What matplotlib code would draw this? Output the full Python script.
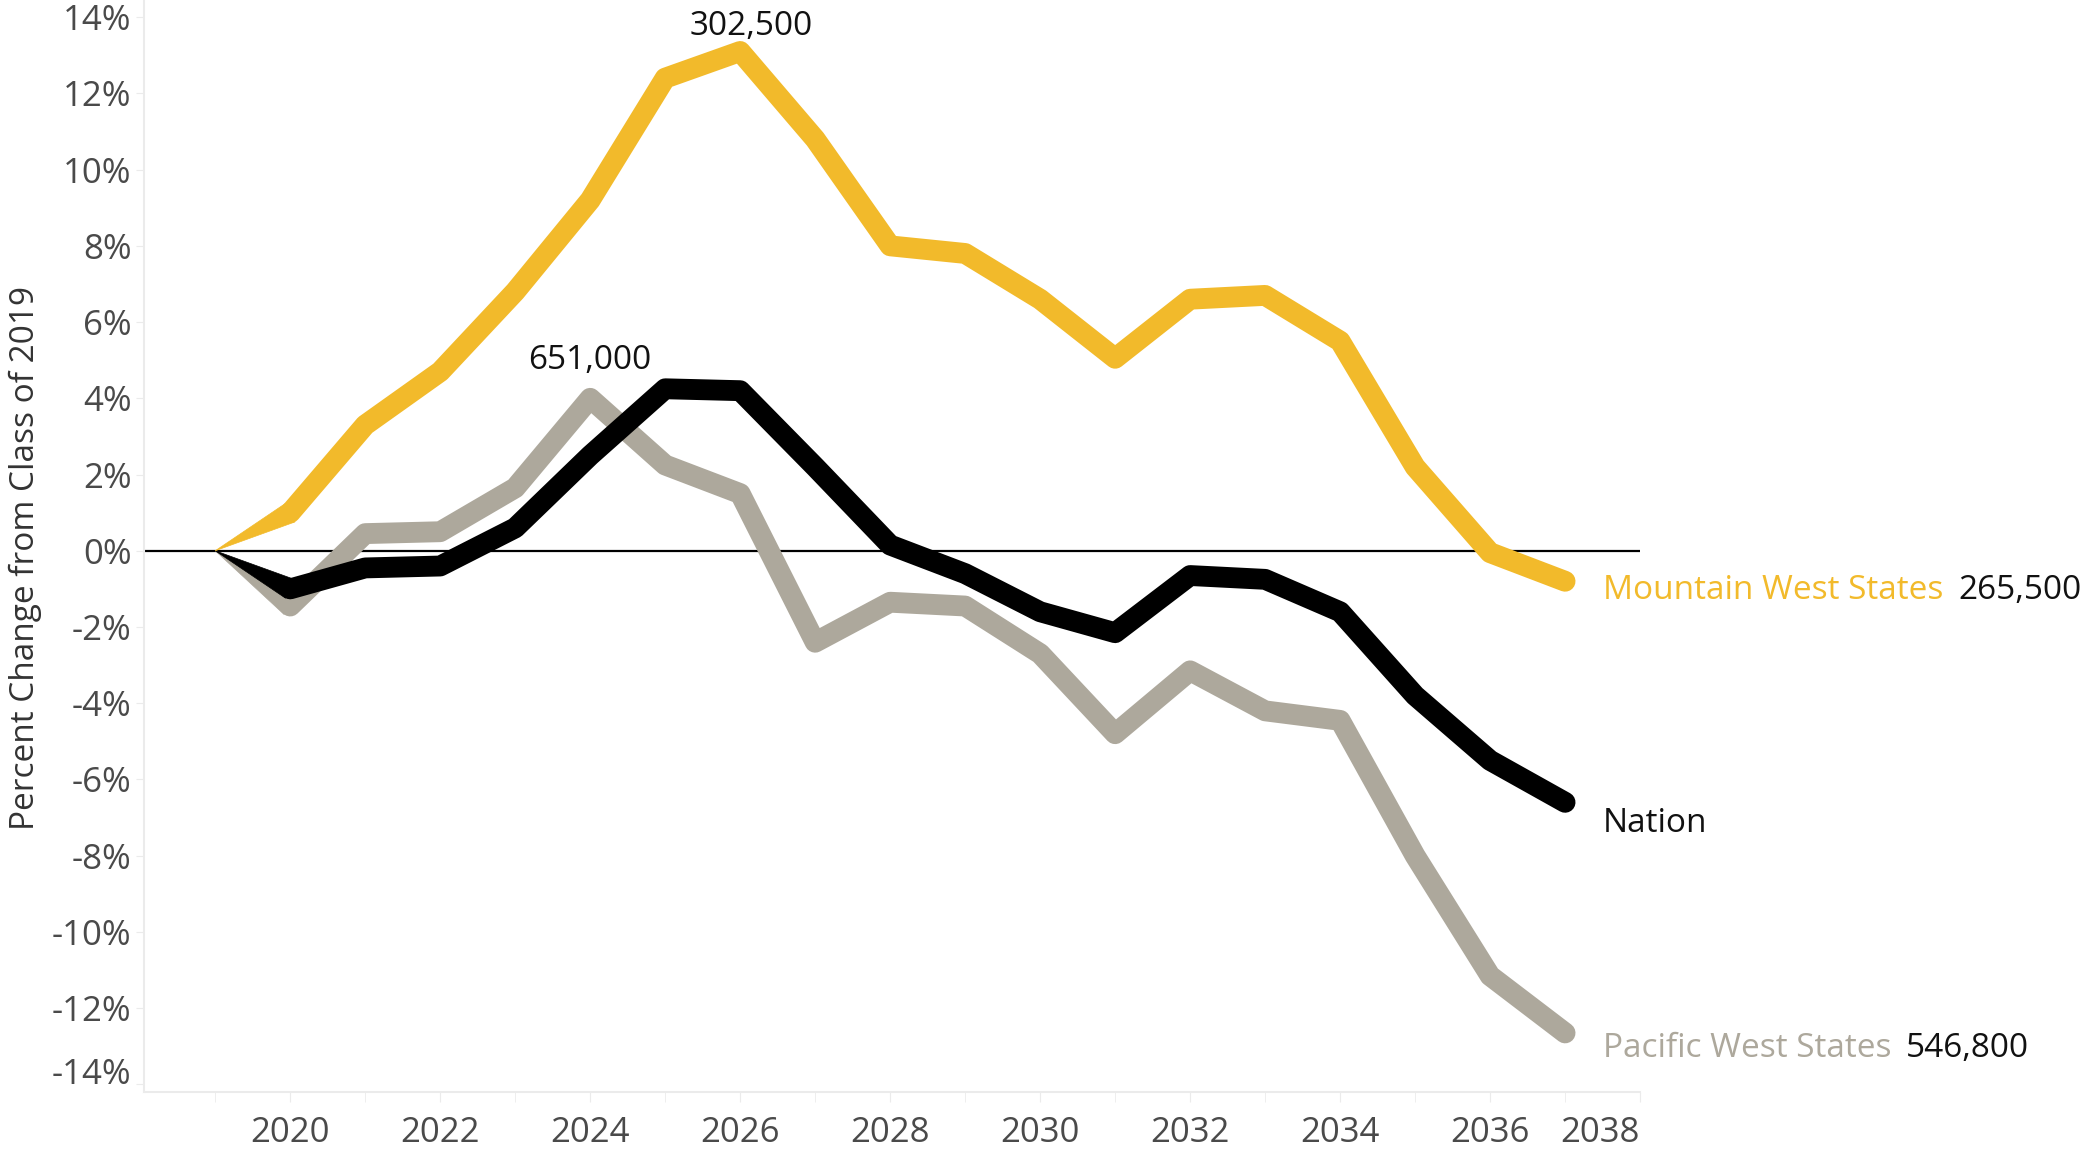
import matplotlib
matplotlib.use("Agg")
import numpy as np
import matplotlib.pyplot as plt
from matplotlib.patches import Polygon
from matplotlib.ticker import MultipleLocator

plt.rcParams['font.family'] = ['Open Sans', 'DejaVu Sans']

years = list(range(2019, 2038))

# percent change from class of 2019
mountain = [0, 1.0, 3.3, 4.7, 6.8, 9.2, 12.4, 13.1, 10.8, 8.0, 7.8, 6.6, 5.05,
            6.6, 6.7, 5.5, 2.2, -0.05, -0.8]
nation = [0, -1.0, -0.45, -0.4, 0.6, 2.5, 4.25, 4.2, 2.2, 0.15, -0.6, -1.6, -2.15,
          -0.65, -0.75, -1.6, -3.8, -5.5, -6.6]
pacific = [0, -1.45, 0.45, 0.5, 1.65, 4.0, 2.25, 1.5, -2.4, -1.35, -1.45, -2.7, -4.8,
           -3.15, -4.2, -4.45, -8.0, -11.15, -12.65]

series_names = ["Mountain West States", "Nation", "Pacific West States"]
end_values = ["265,500", "", "546,800"]
peak_labels = {"Mountain West States": (2026, "302,500"), "Pacific West States": (2024, "651,000")}

y_ticks = list(range(-14, 15, 2))
x_ticks = list(range(2020, 2039, 2))

gold = "#F2BA2B"
gray = "#ADA89C"
black = "#000000"

fig = plt.figure(figsize=(20.93, 11.49), dpi=100)
ax = fig.add_axes([0.0688, 0.0496, 0.7148, 0.9504])

ax.set_xlim(2018.05, 2038)
ax.set_ylim(-14.2, 14.45)

lw = 15
hw = lw / 72 * fig.dpi / 2  # half line width in pixels


def draw_series(data, color, z):
    ax.plot(years[1:], data[1:], color=color, lw=lw, solid_capstyle='round',
            solid_joinstyle='round', zorder=z)
    # first segment tapers from a point at 2019 to full width at 2020
    p0 = ax.transData.transform((years[0], data[0]))
    p1 = ax.transData.transform((years[1], data[1]))
    d = p1 - p0
    n = np.array([-d[1], d[0]]) / np.hypot(*d)
    poly = Polygon([p0, p1 + n * hw, p1 - n * hw], closed=True, transform=None,
                   facecolor=color, edgecolor=color, lw=0.5, zorder=z)
    ax.add_patch(poly)


draw_series(pacific, gray, 3)
draw_series(nation, black, 4)
draw_series(mountain, gold, 5)

ax.axhline(0, color="black", lw=1.6, zorder=2)

ax.set_yticks(y_ticks)
ax.set_yticklabels([f"{v}%" for v in y_ticks])
ax.set_xticks(x_ticks)
ax.set_xticklabels([str(v) for v in x_ticks])
ax.xaxis.set_minor_locator(MultipleLocator(1))

for s in ["top", "right"]:
    ax.spines[s].set_visible(False)
for s in ["left", "bottom"]:
    ax.spines[s].set_color("#ebebeb")
    ax.spines[s].set_linewidth(1.5)

ax.tick_params(axis='both', which='both', color="#ebebeb", labelcolor="#4a4a4a", labelsize=25)
ax.tick_params(axis='x', which='major', length=7, pad=10)
ax.tick_params(axis='x', which='minor', length=7)
ax.tick_params(axis='y', length=6, pad=3)

ax.get_xticklabels()[-1].set_ha('right')
ax.get_yticklabels()[0].set_va('baseline')

ax.set_ylabel("Percent Change from Class of 2019", fontsize=24, color="#333333")
ax.yaxis.set_label_coords(-0.068, 0.489)

# end labels
ends = [(mountain, gold, -6.5), (nation, black, -15), (pacific, gray, -11)]
for name, val, (data, col, dy) in zip(series_names, end_values, ends):
    t = ax.annotate(name, xy=(years[-1], data[-1]), xytext=(27, dy), textcoords='offset points',
                    color=col if col != black else "#111111", fontsize=24, va='center', ha='left',
                    annotation_clip=False)
    if val:
        ax.annotate(val, xy=(1, 0.5), xycoords=t, xytext=(11, 0), textcoords='offset points',
                    color="#111111", fontsize=24, va='center', ha='left', annotation_clip=False)

# peak labels
ax.annotate(peak_labels["Mountain West States"][1],
            xy=(peak_labels["Mountain West States"][0], mountain[years.index(2026)]),
            xytext=(8, 6), textcoords='offset points', ha='center', va='bottom',
            fontsize=24, color="#111111", annotation_clip=False)
ax.annotate(peak_labels["Pacific West States"][1],
            xy=(peak_labels["Pacific West States"][0], pacific[years.index(2024)]),
            xytext=(0, 15), textcoords='offset points', ha='center', va='bottom',
            fontsize=24, color="#111111", annotation_clip=False)

fig.savefig("out.png", dpi=100)
